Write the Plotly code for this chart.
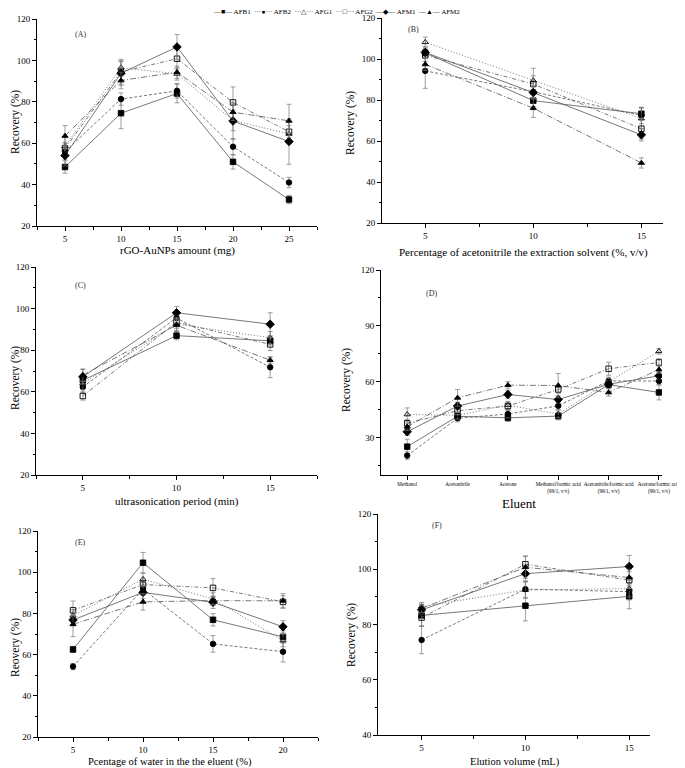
import plotly.graph_objects as go

SERIES = ["AFB1", "AFB2", "AFG1", "AFG2", "AFM1", "AFM2"]

A_X = [5, 10, 15, 20, 25]
A_VAL = {
    "AFB1": [48.5, 74.5, 84.0, 51.0, 32.8],
    "AFB2": [56.0, 81.3, 85.3, 58.3, 41.0],
    "AFG1": [58.5, 96.5, 93.5, 71.0, 64.5],
    "AFG2": [57.5, 94.5, 100.8, 79.7, 65.5],
    "AFM1": [54.0, 93.8, 106.5, 70.7, 60.8],
    "AFM2": [63.5, 90.3, 94.3, 75.0, 70.8],
}
A_ERR = {
    "AFB1": [3, 7.5, 4.5, 3.5, 2],
    "AFB2": [4, 3, 3.5, 4, 2.5],
    "AFG1": [4.5, 3, 3, 5, 4],
    "AFG2": [3, 6, 5, 7.5, 5],
    "AFM1": [5, 6, 6, 9, 11],
    "AFM2": [5, 4, 3, 4, 8],
}

B_X = [5, 10, 15]
B_VAL = {
    "AFB1": [103.0, 79.7, 73.3],
    "AFB2": [94.2, 84.0, 72.5],
    "AFG1": [108.2, 89.5, 71.0],
    "AFG2": [101.8, 87.8, 66.0],
    "AFM1": [103.2, 83.6, 63.0],
    "AFM2": [97.4, 76.0, 49.3],
}
B_ERR = {
    "AFB1": [2, 3, 3], "AFB2": [8.5, 3, 4], "AFG1": [2.5, 6, 5],
    "AFG2": [3, 4, 5], "AFM1": [3, 3, 3], "AFM2": [3, 4.5, 2.5],
}

C_X = [5, 10, 15]
C_VAL = {
    "AFB1": [65.5, 87.0, 84.5],
    "AFB2": [62.3, 95.5, 71.8],
    "AFG1": [64.0, 92.5, 86.0],
    "AFG2": [58.0, 93.5, 82.8],
    "AFM1": [67.2, 98.0, 92.5],
    "AFM2": [68.0, 92.0, 75.2],
}
C_ERR = {
    "AFB1": [2, 2, 2], "AFB2": [3, 3, 5], "AFG1": [3, 3, 3],
    "AFG2": [2, 3, 3], "AFM1": [3.5, 3, 5.5], "AFM2": [3, 3, 1.5],
}

D_CATS = ["Methanol", "Acetonitrile", "Acetone",
          "Methanol/formic acid<br>(99/1, v/v)",
          "Acetonitrile/formic acid<br>(99/1, v/v)",
          "Acetone/formic acid<br>(99/1, v/v)"]
D_VAL = {
    "AFB1": [25.2, 41.5, 40.7, 41.6, 58.5, 54.3],
    "AFB2": [20.4, 40.5, 42.7, 47.1, 60.5, 60.4],
    "AFG1": [42.5, 42.0, 47.5, 42.7, 60.0, 76.4],
    "AFG2": [37.7, 44.5, 47.0, 55.9, 67.0, 70.4],
    "AFM1": [33.2, 47.0, 53.2, 50.5, 58.7, 63.2],
    "AFM2": [35.9, 51.4, 58.2, 58.0, 54.3, 66.6],
}
D_ERR = {
    "AFB1": [4, 2, 2, 2, 2, 4], "AFB2": [2, 2, 2, 2, 2, 2],
    "AFG1": [3.5, 2, 2, 2, 2, 1.5], "AFG2": [2, 2, 2, 2, 3.5, 2],
    "AFM1": [2, 2, 2, 2, 2, 2], "AFM2": [2, 4.5, 2, 6.5, 2, 2],
}

E_X = [5, 10, 15, 20]
E_VAL = {
    "AFB1": [62.5, 104.6, 76.9, 68.6],
    "AFB2": [54.2, 91.8, 65.2, 61.4],
    "AFG1": [78.9, 96.6, 87.0, 66.8],
    "AFG2": [81.5, 94.0, 92.4, 85.6],
    "AFM1": [76.8, 90.2, 85.4, 73.5],
    "AFM2": [74.7, 85.6, 86.2, 86.1],
}
E_ERR = {
    "AFB1": [1.5, 5, 3, 3], "AFB2": [1.5, 3, 4, 5], "AFG1": [3, 3, 3, 3],
    "AFG2": [4.5, 3, 4.5, 3], "AFM1": [2, 3, 3, 3], "AFM2": [6, 4, 2, 3.5],
}

F_X = [5, 10, 15]
F_VAL = {
    "AFB1": [83.3, 86.8, 90.2],
    "AFB2": [74.4, 92.8, 91.9],
    "AFG1": [86.5, 92.5, 93.0],
    "AFG2": [82.5, 101.8, 96.1],
    "AFM1": [85.3, 98.4, 101.0],
    "AFM2": [85.8, 100.7, 97.0],
}
F_ERR = {
    "AFB1": [4, 5.5, 4.5], "AFB2": [5, 3, 3], "AFG1": [1.5, 3, 3],
    "AFG2": [3, 3, 3], "AFM1": [1.5, 3, 4], "AFM2": [1.5, 4, 3],
}

STYLE = {
    "AFB1": dict(symbol="square", dash="solid", glyph="—■—"),
    "AFB2": dict(symbol="circle", dash="3px,2px", glyph="···●···"),
    "AFG1": dict(symbol="triangle-up-open", dash="1px,2px", glyph="···△···"),
    "AFG2": dict(symbol="square-open", dash="4px,2px,1px,2px", glyph="···□···"),
    "AFM1": dict(symbol="diamond", dash="solid", glyph="—◆—"),
    "AFM2": dict(symbol="triangle-up", dash="6px,2px,1px,2px", glyph="—▲—"),
}

# page offset of the figure inside the browser page (default body margin)
OFF = 8
W, H = 685 - OFF, 768 - OFF
FONT = "Liberation Serif, Times New Roman, serif"


def px_x(v):
    return (v - OFF) / W


def px_y(v):
    return 1 - (v - OFF) / H


PANELS = [
    dict(label="(A)", x=A_X, v=A_VAL, e=A_ERR, xd=(37, 317), yd=(19, 226), xr=[2.5, 27.5], yr=[20, 120],
         xdt=5, xmn=2.5, ydt=20, ymn=10, xt="rGO-AuNPs amount (mg)", yt="Recovery (%)",
         lp=(80, 35), xtp=(177, 250), ytp=(15, 122)),
    dict(label="(B)", x=B_X, v=B_VAL, e=B_ERR, xd=(382, 663), yd=(18, 223), xr=[3, 16], yr=[20, 120],
         xdt=5, xmn=2.5, ydt=20, ymn=10, xt="Percentage of acetonitrile the extraction solvent (%, v/v)",
         yt="Recovery (%)", lp=(413, 30), xtp=(523, 252), ytp=(351, 123)),
    dict(label="(C)", x=C_X, v=C_VAL, e=C_ERR, xd=(36, 317), yd=(267, 475), xr=[2.5, 17.5], yr=[20, 120],
         xdt=5, xmn=2.5, ydt=20, ymn=10, xt="ultrasonication period (min)", yt="Recovery (%)",
         lp=(80, 285), xtp=(177, 501), ytp=(15, 378)),
    dict(label="(D)", x=D_CATS, v=D_VAL, e=D_ERR, xd=(381, 662), yd=(270, 475), xr=[-0.52, 5.06], yr=[10, 120],
         xdt=None, xmn=None, ydt=30, ymn=15, xt="Eluent", yt="Recovery (%)",
         lp=(432, 294), xtp=(519, 503), ytp=(346, 380)),
    dict(label="(E)", x=E_X, v=E_VAL, e=E_ERR, xd=(38, 318), yd=(531, 737), xr=[2.5, 22.5], yr=[20, 120],
         xdt=5, xmn=2.5, ydt=20, ymn=10, xt="Pcentage of water in the the eluent (%)", yt="Reovery (%)",
         lp=(80, 542), xtp=(170, 762), ytp=(15, 648)),
    dict(label="(F)", x=F_X, v=F_VAL, e=F_ERR, xd=(378, 650), yd=(514, 735), xr=[2.9, 16], yr=[40, 120],
         xdt=5, xmn=2.5, ydt=20, ymn=10, xt="Elution volume (mL)", yt="Recovery (%)",
         lp=(437, 525), xtp=(515, 762), ytp=(351, 635)),
]

fig = go.Figure()
annotations = []
layout = {}


def ann(text, px, py, size, angle=0, color="black"):
    return dict(text=text, x=px_x(px), y=px_y(py), xref="paper", yref="paper",
                xanchor="center", yanchor="middle", showarrow=False, textangle=angle,
                font=dict(family=FONT, size=size, color=color))


for i, p in enumerate(PANELS):
    n = "" if i == 0 else str(i + 1)
    xa, ya = "x" + n, "y" + n
    for s in SERIES:
        st = STYLE[s]
        fig.add_trace(go.Scatter(
            x=p["x"], y=p["v"][s], xaxis=xa, yaxis=ya, name=s, showlegend=False,
            mode="lines+markers",
            line=dict(color="#555555", width=0.8, dash=st["dash"]),
            marker=dict(symbol=st["symbol"], size=5.5 if "diamond" not in st["symbol"] else 6.5,
                        color="black", line=dict(color="black", width=0.9)),
            error_y=dict(type="data", array=p["e"][s], visible=True, color="#777777",
                         thickness=0.7, width=2.5),
        ))
    xaxis = dict(
        domain=[px_x(p["xd"][0]), px_x(p["xd"][1])], range=p["xr"], anchor=ya, automargin=False,
        showline=True, linecolor="black", linewidth=1, ticks="outside", ticklen=4,
        tickwidth=1, tickcolor="black", showgrid=False, zeroline=False, tickangle=0,
        tickfont=dict(family=FONT, size=9 if p["xdt"] else 5.2, color="black"),
    )
    if p["xdt"]:
        xaxis.update(tickmode="linear", tick0=0, dtick=p["xdt"],
                     minor=dict(ticks="outside", ticklen=2.5, tickcolor="black", dtick=p["xmn"], tick0=0))
    else:
        xaxis.update(type="category")
    yaxis = dict(
        domain=[px_y(p["yd"][1]), px_y(p["yd"][0])], range=p["yr"], anchor=xa, automargin=False,
        showline=True, linecolor="black", linewidth=1, ticks="outside", ticklen=4,
        tickwidth=1, tickcolor="black", showgrid=False, zeroline=False,
        tickmode="linear", tick0=0, dtick=p["ydt"],
        minor=dict(ticks="outside", ticklen=2.5, tickcolor="black", dtick=p["ymn"], tick0=0),
        tickfont=dict(family=FONT, size=9, color="black"),
    )
    layout["xaxis" + n] = xaxis
    layout["yaxis" + n] = yaxis
    annotations.append(ann(p["label"], p["lp"][0], p["lp"][1], 8, color="#333333"))
    xt_size = 13 if p["xt"] == "Eluent" else (10.5 if i >= 4 else 11)
    annotations.append(ann(p["xt"], p["xtp"][0], p["xtp"][1], xt_size))
    annotations.append(ann(p["yt"], p["ytp"][0], p["ytp"][1], 11.5, angle=-90))

legend_text = "  ".join(STYLE[s]["glyph"] + " " + s for s in SERIES)
annotations.append(ann(legend_text, 336, 11.5, 7))

fig.update_layout(
    template="none",
    width=W, height=H, margin=dict(l=0, r=0, t=0, b=0, autoexpand=False),
    paper_bgcolor="white", plot_bgcolor="white", showlegend=False,
    annotations=annotations, **layout,
)

fig.write_html("out.html")
